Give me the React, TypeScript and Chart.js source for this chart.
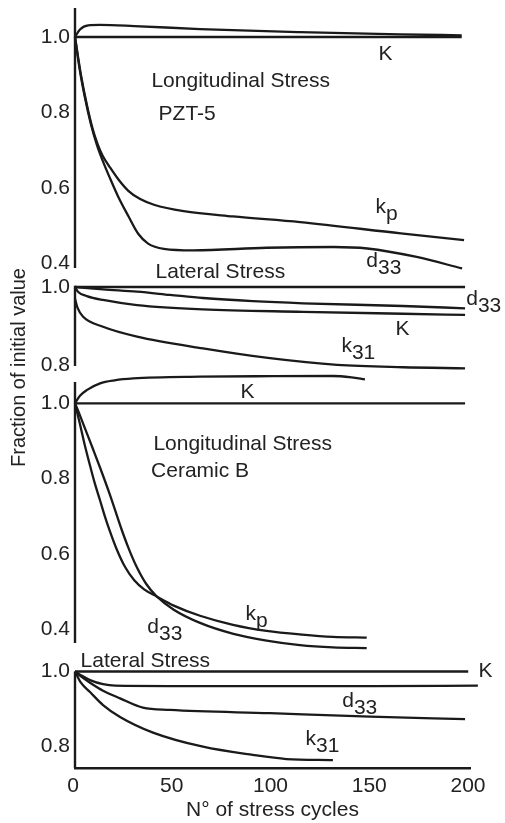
import React, { useEffect, useRef } from 'react';
import { Chart, registerables } from 'chart.js';

Chart.register(...registerables);

type Pt = [number, number];

// ---------- tick labels ----------
const X_TICK_STEP = 50;
const PZT5_LONG_TICKS = [1.0, 0.8, 0.6, 0.4];
const PZT5_LAT_TICKS = [1.0, 0.8];
const CERB_LONG_TICKS = [1.0, 0.8, 0.6, 0.4];
const CERB_LAT_TICKS = [1.0, 0.8];

// ---------- Panel 1: Longitudinal stress, PZT-5 ----------
const pzt5LongRef: Pt[] = [[0, 1.0], [195.8, 1.0]];
const pzt5LongK: Pt[] = [[0, 1.0], [2.5, 1.02], [6.7, 1.031], [12.7, 1.032], [30, 1.029], [63.3, 1.021], [113.9, 1.013], [164.6, 1.007], [195.8, 1.0045]];
const pzt5LongKp: Pt[] = [[0, 1.0], [3, 0.9], [6, 0.82], [9, 0.755], [11.5, 0.715], [14, 0.685], [18, 0.652], [22, 0.622], [27, 0.592], [33, 0.57], [40, 0.555], [55, 0.538], [80, 0.524], [114, 0.509], [165, 0.479], [197, 0.461]];
const pzt5LongD33: Pt[] = [[0, 1.0], [2.5, 0.91], [5, 0.84], [8, 0.77], [11, 0.715], [14, 0.672], [18, 0.622], [22, 0.575], [27, 0.525], [32, 0.478], [37, 0.452], [45, 0.438], [60, 0.434], [97, 0.441], [131, 0.443], [148, 0.439], [173, 0.4165], [196, 0.386]];

// ---------- Panel 2: Lateral stress, PZT-5 ----------
const pzt5LatRef: Pt[] = [[0, 1.0], [197.5, 1.0]];
const pzt5LatD33: Pt[] = [[0, 1.0], [14.2, 0.994], [31.4, 0.988], [48.1, 0.98], [64.8, 0.972], [90, 0.964], [115.4, 0.9586], [166, 0.9517], [197.5, 0.9459]];
const pzt5LatK: Pt[] = [[0, 1.0], [1.5, 0.988], [6, 0.977], [14.2, 0.967], [31.4, 0.954], [64.8, 0.943], [115.4, 0.937], [166, 0.932], [197.5, 0.929]];
const pzt5LatK31: Pt[] = [[0, 0.97], [1.2, 0.948], [4, 0.925], [14.2, 0.899], [31.4, 0.874], [64.8, 0.844], [98.7, 0.819], [132.7, 0.802], [166, 0.796], [197.5, 0.7934]];

// ---------- Panel 3: Longitudinal stress, Ceramic B ----------
const cerbLongRef: Pt[] = [[0, 1.0], [197.5, 1.0]];
const cerbLongK: Pt[] = [[0, 1.0], [2.5, 1.02], [5.9, 1.035], [12.7, 1.053], [20, 1.061], [29.5, 1.066], [63.3, 1.0706], [100, 1.072], [130.6, 1.0725], [140, 1.069], [146.8, 1.0637]];
const cerbLongKp: Pt[] = [[0, 1.0], [2.5, 0.945], [5, 0.888], [7.6, 0.835], [10, 0.788], [12.7, 0.742], [15, 0.702], [17.7, 0.66], [21, 0.614], [25.3, 0.566], [30, 0.53], [35, 0.506], [41.4, 0.487], [50, 0.463], [63.3, 0.436], [80, 0.412], [97, 0.396], [115, 0.386], [130.6, 0.38], [147.7, 0.378]];
const cerbLongD33: Pt[] = [[0, 1.0], [2.5, 0.968], [5, 0.934], [9.3, 0.876], [13, 0.825], [17.7, 0.757], [23.6, 0.665], [27, 0.617], [31.2, 0.566], [36, 0.521], [41.4, 0.487], [50, 0.452], [63.3, 0.417], [80.2, 0.388], [97, 0.37], [113.9, 0.358], [130.6, 0.352], [147.7, 0.35]];

// ---------- Panel 4: Lateral stress, Ceramic B ----------
const cerbLatK: Pt[] = [[0, 1.0], [199.1, 1.0]];
const cerbLatD33: Pt[] = [[0, 1.0], [3, 0.99], [7.6, 0.977], [14.2, 0.966], [20.3, 0.962], [48.1, 0.961], [98.7, 0.961], [149.4, 0.961], [204, 0.962]];
const cerbLatThird: Pt[] = [[0, 1.0], [3, 0.987], [7.6, 0.97], [14.2, 0.9485], [22.8, 0.928], [34.4, 0.903], [48.1, 0.897], [98.7, 0.888], [149.4, 0.879], [197.5, 0.872]];
const cerbLatK31: Pt[] = [[0, 1.0], [3, 0.97], [7.6, 0.945], [14.2, 0.91], [22.8, 0.878], [39.5, 0.836], [64.8, 0.798], [90, 0.776], [107, 0.765], [130.6, 0.762]];

// ---------- vertical axis lines of each panel (value range) ----------
const pzt5LongAxis: Pt[] = [[0, 1.0769], [0, 0.387]];
const pzt5LatAxis: Pt[] = [[0, 1.003], [0, 0.799]];
const cerbLongAxis: Pt[] = [[0, 1.0565], [0, 0.3637]];
const cerbLatAxis: Pt[] = [[0, 1.0], [0, 0.7409]];

const X_TITLE = 'N° of stress cycles';
const Y_TITLE = 'Fraction of initial value';

type Note = { axis: string; x: number; y: number; text: string; sub?: string };
const NOTES: Note[] = [
  { axis: 'y1', x: 38.7, y: 0.8684, text: 'Longitudinal Stress' },
  { axis: 'y1', x: 42.3, y: 0.779, text: 'PZT-5' },
  { axis: 'y1', x: 153.7, y: 0.938, text: 'K' },
  { axis: 'y1', x: 152.2, y: 0.532, text: 'k', sub: 'p' },
  { axis: 'y1', x: 147.5, y: 0.389, text: 'd', sub: '33' },
  { axis: 'y2', x: 40.8, y: 1.0229, text: 'Lateral Stress' },
  { axis: 'y2', x: 198.1, y: 0.9543, text: 'd', sub: '33' },
  { axis: 'y2', x: 162.3, y: 0.878, text: 'K' },
  { axis: 'y2', x: 134.9, y: 0.8348, text: 'k', sub: '31' },
  { axis: 'y3', x: 83.8, y: 1.014, text: 'K' },
  { axis: 'y3', x: 39.7, y: 0.876, text: 'Longitudinal Stress' },
  { axis: 'y3', x: 38.5, y: 0.8044, text: 'Ceramic B' },
  { axis: 'y3', x: 86.3, y: 0.4247, text: 'k', sub: 'p' },
  { axis: 'y3', x: 36.6, y: 0.39, text: 'd', sub: '33' },
  { axis: 'y4', x: 2.8, y: 1.0121, text: 'Lateral Stress' },
  { axis: 'y4', x: 204.3, y: 0.9852, text: 'K' },
  { axis: 'y4', x: 135.3, y: 0.9047, text: 'd', sub: '33' },
  { axis: 'y4', x: 116.7, y: 0.8027, text: 'k', sub: '31' },
];

const FONT = '"Liberation Sans", Arial, Helvetica, sans-serif';
const TEXT_COLOR = '#222222';
const LINE_COLOR = '#1a1a1a';

const ds = (label: string, pts: Pt[], axis: string, smooth = true) => ({
  label,
  data: pts.map(([x, y]) => ({ x, y })),
  yAxisID: axis,
  borderColor: LINE_COLOR,
  backgroundColor: LINE_COLOR,
  borderWidth: smooth ? 2.3 : 2.4,
  pointRadius: 0,
  pointHoverRadius: 0,
  showLine: true,
  fill: false,
  clip: false as any,
  tension: smooth ? 0.4 : 0,
  cubicInterpolationMode: smooth ? ('monotone' as const) : ('default' as const),
});

const panelScale = (min: number, max: number, weight: number, stackWeight: number, ticks: number[]) => ({
  type: 'linear' as const,
  axis: 'y' as const,
  position: 'left' as const,
  stack: 'panels',
  stackWeight,
  weight,
  min,
  max,
  grid: { display: false, drawTicks: false },
  border: { display: false },
  ticks: {
    font: { family: FONT, size: 21 },
    color: TEXT_COLOR,
    padding: 5,
    autoSkip: false,
    callback: (v: any) => Number(v).toFixed(1),
  },
  afterBuildTicks: (s: any) => {
    s.ticks = ticks.map((value) => ({ value }));
  },
  afterFit: (s: any) => {
    s.width = 75;
    s.paddingTop = 0;
    s.paddingBottom = 0;
  },
});

const notesPlugin = {
  id: 'notes',
  afterDraw(chart: any) {
    const ctx = chart.ctx as CanvasRenderingContext2D;
    const xs = chart.scales.x;
    ctx.save();
    ctx.fillStyle = TEXT_COLOR;
    ctx.font = `21px ${FONT}`;
    ctx.textBaseline = 'alphabetic';
    ctx.textAlign = 'left';
    for (const n of NOTES) {
      const ys = chart.scales[n.axis];
      const px = xs.getPixelForValue(n.x);
      const py = ys.getPixelForValue(n.y);
      ctx.fillText(n.text, px, py);
      if (n.sub) {
        const w = ctx.measureText(n.text).width;
        ctx.fillText(n.sub, px + w, py + 7);
      }
    }
    ctx.translate(25, 367.5);
    ctx.rotate(-Math.PI / 2);
    ctx.textAlign = 'center';
    ctx.font = `20px ${FONT}`;
    ctx.fillText(Y_TITLE, 0, 0);
    ctx.restore();
  },
};

export default function App() {
  const ref = useRef<HTMLCanvasElement | null>(null);
  useEffect(() => {
    if (!ref.current) return;
    const chart = new Chart(ref.current, {
      type: 'scatter',
      data: {
        datasets: [
          ds('axis1', pzt5LongAxis, 'y1', false),
          ds('ref1', pzt5LongRef, 'y1'),
          ds('K', pzt5LongK, 'y1'),
          ds('kp', pzt5LongKp, 'y1'),
          ds('d33', pzt5LongD33, 'y1'),
          ds('axis2', pzt5LatAxis, 'y2', false),
          ds('ref2', pzt5LatRef, 'y2'),
          ds('d33', pzt5LatD33, 'y2'),
          ds('K', pzt5LatK, 'y2'),
          ds('k31', pzt5LatK31, 'y2'),
          ds('axis3', cerbLongAxis, 'y3', false),
          ds('ref3', cerbLongRef, 'y3'),
          ds('K', cerbLongK, 'y3'),
          ds('kp', cerbLongKp, 'y3'),
          ds('d33', cerbLongD33, 'y3'),
          ds('axis4', cerbLatAxis, 'y4', false),
          ds('K', cerbLatK, 'y4'),
          ds('d33', cerbLatD33, 'y4'),
          ds('third', cerbLatThird, 'y4'),
          ds('k31', cerbLatK31, 'y4'),
        ] as any,
      },
      options: {
        animation: false,
        responsive: false,
        maintainAspectRatio: false,
        events: [],
        layout: { padding: { top: 8, right: 35, bottom: 0, left: 0 } },
        plugins: { legend: { display: false }, tooltip: { enabled: false }, title: { display: false } },
        scales: {
          x: {
            type: 'linear',
            position: 'bottom',
            min: 0,
            max: 200,
            grid: { display: false, drawTicks: false },
            border: { display: true, color: LINE_COLOR, width: 2.4 },
            ticks: { stepSize: X_TICK_STEP, font: { family: FONT, size: 21 }, color: TEXT_COLOR, padding: 6, labelOffset: -2 },
            title: { display: true, text: X_TITLE, font: { family: FONT, size: 21 }, color: TEXT_COLOR, padding: { top: 0, bottom: 0 } },
            afterFit: (s: any) => {
              s.height = 55;
              s.paddingLeft = 0;
              s.paddingRight = 0;
            },
          },
          y1: panelScale(0.3634, 1.0769, 4, 269, PZT5_LONG_TICKS),
          y2: panelScale(0.7789, 1.0254, 3, 97, PZT5_LAT_TICKS),
          y3: panelScale(0.3252, 1.0778, 2, 283.5, CERB_LONG_TICKS),
          y4: panelScale(0.7409, 1.0376, 1, 110.5, CERB_LAT_TICKS),
        } as any,
      },
      plugins: [notesPlugin],
    });
    return () => chart.destroy();
  }, []);
  return (
    <div style={{ position: 'fixed', left: 0, top: 0, width: 505, height: 823, background: '#ffffff' }}>
      <canvas ref={ref} width={505} height={823} style={{ display: 'block', width: 505, height: 823 }} />
    </div>
  );
}
